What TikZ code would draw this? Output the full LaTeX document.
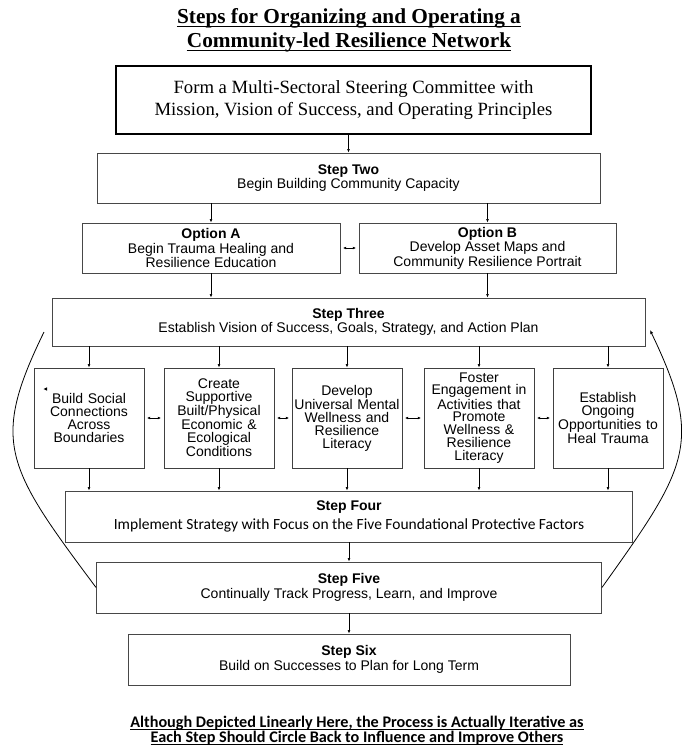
\documentclass[tikz,border=0pt]{standalone}
\usepackage{fontspec}
\setmainfont{Liberation Serif}
\setsansfont{Liberation Sans}
\newfontfamily\carlito{Carlito}
\usetikzlibrary{arrows.meta}
\tikzset{
  stepbox/.style={draw=black!72, line width=0.9pt, align=center, inner sep=1pt,
    font=\sffamily\fontsize{14}{14.5}\selectfont},
  colbox/.style={draw=black!75, line width=0.9pt, align=center, text width=108pt,
    minimum width=110pt, minimum height=100pt, inner sep=0pt,
    font=\sffamily\fontsize{14}{12.9}\selectfont},
  titleline/.style={inner sep=0pt, anchor=base, font=\bfseries\fontsize{21.3}{24}\selectfont},
  footline/.style={inner sep=0pt, anchor=base, font=\carlito\bfseries\fontsize{16.2}{17}\selectfont},
  arr/.style={-{Latex[length=3.5pt,width=2.8pt]}, line width=0.6pt},
  darr/.style={{Latex[length=3.2pt,width=2.8pt]}-{Latex[length=3.2pt,width=2.8pt]}, line width=0.6pt, shorten <=2.5pt, shorten >=2.5pt},
  loopline/.style={line width=0.8pt},
}
\begin{document}
\begin{tikzpicture}[x=1pt,y=-1pt]
\useasboundingbox (0,0) rectangle (681,748);
% title
\node[titleline] (t1) at (349,23) {Steps for Organizing and Operating a};
\node[titleline] (t2) at (349,47) {Community-led Resilience Network};
\draw[line width=1.5pt] ([yshift=-3.5pt]t1.base west) -- ([yshift=-3.5pt]t1.base east);
\draw[line width=1.5pt] ([yshift=-3.5pt]t2.base west) -- ([yshift=-3.5pt]t2.base east);
% top box
\node[draw=black, line width=1.8pt, minimum width=475pt, minimum height=68pt, align=center,
  font=\fontsize{18.7}{22}\selectfont] (top) at (353.5,100)
  {Form a Multi-Sectoral Steering Committee with\\Mission, Vision of Success, and Operating Principles};
% step two
\node[stepbox, minimum width=503pt, minimum height=50pt] (s2) at (348.5,178)
  {\textbf{Step Two}\\Begin Building Community Capacity};
% options
\node[stepbox, minimum width=258pt, minimum height=50pt] (oa) at (211,248)
  {\textbf{Option A}\\Begin Trauma Healing and\\Resilience Education};
\node[stepbox, minimum width=257pt, minimum height=50pt] (ob) at (487.5,248)
  {\textbf{Option B}\\Develop Asset Maps and\\Community Resilience Portrait};
% step three
\node[stepbox, minimum width=593pt, minimum height=48pt] (s3) at (348.5,322)
  {\textbf{Step Three}\\Establish Vision of Success, Goals, Strategy, and Action Plan};
% five boxes
\node[colbox] (b1) at (89,418) {Build Social\\Connections\\Across\\Boundaries};
\node[colbox] (b2) at (219,418) {Create\\Supportive\\Built/Physical\\Economic \&\\Ecological\\Conditions};
\node[colbox] (b3) at (347,418) {Develop\\Universal Mental\\Wellness and\\Resilience\\Literacy};
\node[colbox] (b4) at (479,418) {Foster\\Engagement in\\Activities that\\Promote\\Wellness \&\\Resilience\\Literacy};
\node[colbox] (b5) at (608,418) {Establish\\Ongoing\\Opportunities to\\Heal Trauma};
% step four
\node[stepbox, minimum width=567pt, minimum height=51pt] (s4) at (349,516.5)
  {\textbf{Step Four}\\[4pt]{\carlito\fontsize{15.5}{15}\selectfont Implement Strategy with Focus on the Five Foundational Protective Factors}};
% step five
\node[stepbox, minimum width=505pt, minimum height=51pt] (s5) at (349,587.5)
  {\textbf{Step Five}\\Continually Track Progress, Learn, and Improve};
% step six
\node[stepbox, minimum width=442pt, minimum height=51pt] (s6) at (349,659.5)
  {\textbf{Step Six}\\Build on Successes to Plan for Long Term};
% footer
\node[footline] (f1) at (357,727) {Although Depicted Linearly Here, the Process is Actually Iterative as};
\node[footline] (f2) at (357,742) {Each Step Should Circle Back to Influence and Improve Others};
\draw[line width=0.9pt] ([yshift=-2pt]f1.base west) -- ([yshift=-2pt]f1.base east);
\draw[line width=0.9pt] ([yshift=-2pt]f2.base west) -- ([yshift=-2pt]f2.base east);
% small speck
\fill (43.5,389) -- (47,387.3) -- (47,390.7) -- cycle;
% arrows
\draw[arr] (s2.north |- top.south) -- (s2.north);
\draw[arr] (s2.south -| oa.north) -- (oa.north);
\draw[arr] (s2.south -| ob.north) -- (ob.north);
\draw[darr] (oa.east) -- (ob.west);
\draw[arr] (oa.south) -- (s3.north -| oa.south);
\draw[arr] (ob.south) -- (s3.north -| ob.south);
\foreach \b in {b1,b2,b3,b4,b5}{
  \draw[arr] (s3.south -| \b.north) -- (\b.north);
  \draw[arr] (\b.south) -- (s4.north -| \b.south);
}
\draw[darr] (b1.east) -- (b2.west);
\draw[darr] (b2.east) -- (b3.west);
\draw[darr] (b3.east) -- (b4.west);
\draw[darr] (b4.east) -- (b5.west);
\draw[arr] (s4.south) -- (s5.north);
\draw[arr] (s5.south) -- (s6.north);
% loop curves
\coordinate (lt) at (44,332);
\coordinate (rt) at (650,330);
\draw[loopline] (s5.west) .. controls (6,467) and (-10,442.5) .. (lt);
\draw[loopline, -{Latex[length=4pt,width=3.2pt]}] (s5.east) .. controls (688,467) and (704,442.5) .. (rt);
\end{tikzpicture}
\end{document}
